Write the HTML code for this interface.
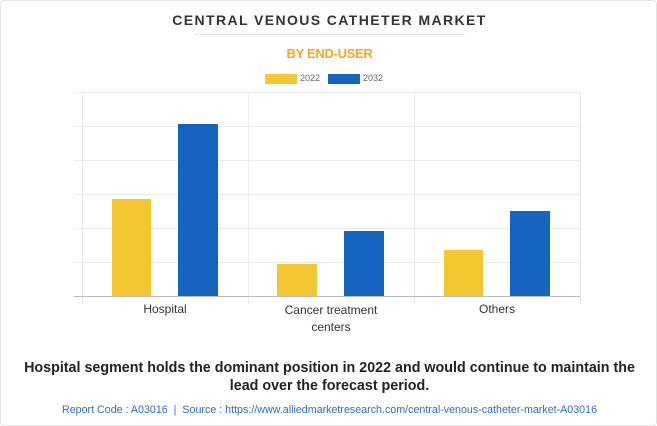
<!DOCTYPE html><html><head><style>
body{margin:0;background:#fff;font-family:"Liberation Sans",sans-serif}
.w{position:relative;width:655px;height:424px;border:1px solid #e3e3e3;border-radius:4px;overflow:hidden}
.a{position:absolute;white-space:nowrap}
</style></head><body><div class="w">
<div class="a" style="left:0;width:657px;text-align:center;top:11px;font-size:14px;font-weight:bold;letter-spacing:1.4px;color:#333">CENTRAL VENOUS CATHETER MARKET</div>
<div class="a" style="left:193px;width:271px;top:33px;height:1px;background:#e6e6e6"></div>
<div class="a" style="left:0;width:657px;text-align:center;top:45px;font-size:13px;font-weight:bold;color:#f5a623;letter-spacing:-0.3px">BY END-USER</div>
<div class="a" style="left:264px;top:73px;width:32px;height:10px;background:#f4c631"></div>
<div class="a" style="left:299px;top:72px;font-size:9px;color:#666">2022</div>
<div class="a" style="left:327px;top:73px;width:32px;height:10px;background:#1565c0"></div>
<div class="a" style="left:362px;top:72px;font-size:9px;color:#666">2032</div>
<svg class="a" style="left:0;top:0" width="657" height="426">
<g stroke="#ebebeb" stroke-width="1">
<line x1="73" x2="579" y1="91.5" y2="91.5"/><line x1="73" x2="579" y1="125.5" y2="125.5"/><line x1="73" x2="579" y1="159.5" y2="159.5"/><line x1="73" x2="579" y1="193.5" y2="193.5"/><line x1="73" x2="579" y1="227.5" y2="227.5"/><line x1="73" x2="579" y1="261.5" y2="261.5"/>
<line x1="81.5" x2="81.5" y1="91" y2="303"/><line x1="247.5" x2="247.5" y1="91" y2="303"/><line x1="413.5" x2="413.5" y1="91" y2="303"/><line x1="579.5" x2="579.5" y1="91" y2="303"/>
</g>
<line x1="73" x2="579" y1="295.5" y2="295.5" stroke="#bbb"/>
<g fill="#f4c631"><rect x="111" y="198" width="39" height="97"/><rect x="276" y="263" width="40" height="32"/><rect x="443" y="249" width="39" height="46"/></g>
<g fill="#1565c0"><rect x="177" y="123" width="40" height="172"/><rect x="343" y="230" width="40" height="65"/><rect x="509" y="210" width="40" height="85"/></g>
</svg>
<div class="a" style="left:114px;width:100px;text-align:center;top:301px;font-size:12px;color:#333">Hospital</div>
<div class="a" style="left:280px;width:100px;text-align:center;top:301px;font-size:12px;color:#333;line-height:17px">Cancer treatment<br>centers</div>
<div class="a" style="left:446px;width:100px;text-align:center;top:301px;font-size:12px;color:#333">Others</div>
<div class="a" style="left:0;width:657px;text-align:center;top:358px;font-size:14.3px;font-weight:bold;color:#222;line-height:18px;white-space:normal">Hospital segment holds the dominant position in 2022 and would continue to maintain the<br>lead over the forecast period.</div>
<div class="a" style="left:0;width:657px;text-align:center;top:403px;font-size:10.7px;color:#2a6ebb">Report Code : A03016 &nbsp;| &nbsp;Source : https://www.alliedmarketresearch.com/central-venous-catheter-market-A03016</div>
</div></body></html>
